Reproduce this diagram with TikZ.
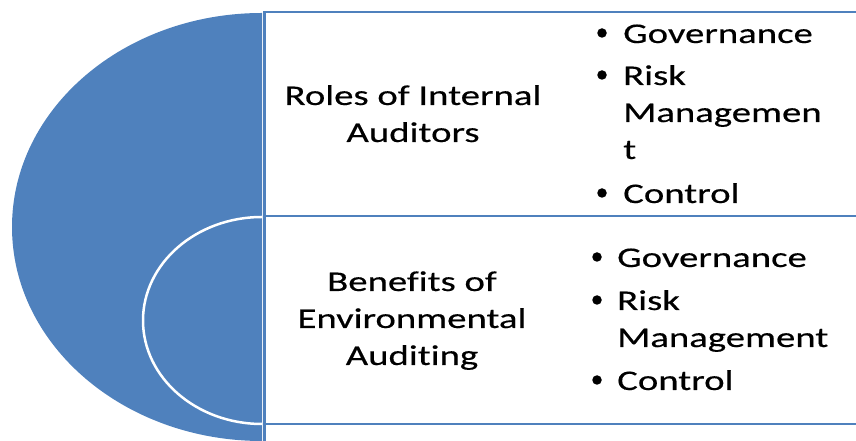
\documentclass[tikz,border=0pt]{standalone}
\usepackage{fontspec}
\setmainfont{Carlito}[FakeStretch=1.36, FakeBold=0.4, Ligatures=NoCommon]
\usepackage{tikz}

% colores de la figura
\definecolor{azul}{HTML}{4F81BD}

\tikzset{
  caja/.style={draw=azul, line width=2.2pt},
  titulo/.style={anchor=base, align=center, inner sep=0pt,
    font=\fontsize{28.5}{37}\selectfont},
  item/.style={anchor=base west, align=left, inner sep=0pt,
    font=\fontsize{28.5}{37}\selectfont},
  vineta/.style={circle, fill=black, inner sep=0pt, minimum size=9.5pt}
}

\begin{document}
\begin{tikzpicture}[x=1pt, y=1pt]
% Marco de la figura: 856 x 441
\useasboundingbox (0,0) rectangle (856,441);

% Semielipse grande, centrada en (262,214)
\fill[azul] (262,428) arc[start angle=90, end angle=270, x radius=250, y radius=214] -- cycle;

% Semielipse interior: solo el borde blanco
\draw[white, line width=2.5pt] (262,224) arc[start angle=90, end angle=270, x radius=119, y radius=103.5];

% Cajas de la derecha (el lado derecho queda fuera del marco)
\draw[caja] (880,429) -- (264.5,429) -- (264.5,225) -- (880,225);
\draw[caja] (264.5,225) -- (264.5,17) -- (880,17);
\draw[caja] (264.5,17) -- (264.5,-10);

% Rótulos centrales
\node[titulo] (roles) at (413,299) {Roles of Internal\\Auditors};
\node[titulo] (beneficios) at (412,76) {Benefits of\\Environmental\\Auditing};

% Lista de arriba (las viñetas van 10pt por encima de la línea base)
\node[item] (gob1) at (623,398) {Governance};
\node[item] (riesgo1) at (623,282) {Risk\\Managemen\\t};
\node[item] (control1) at (623,238) {Control};
\node[vineta] (v1) at (602,408) {};
\node[vineta] (v2) at (602,366) {};
\node[vineta] (v3) at (602,248) {};

% Lista de abajo
\node[item] (gob2) at (617,174) {Governance};
\node[item] (riesgo2) at (617,94) {Risk\\Management};
\node[item] (control2) at (617,51) {Control};
\node[vineta] (v4) at (597,184) {};
\node[vineta] (v5) at (597,141) {};
\node[vineta] (v6) at (597,61) {};
\end{tikzpicture}
\end{document}
